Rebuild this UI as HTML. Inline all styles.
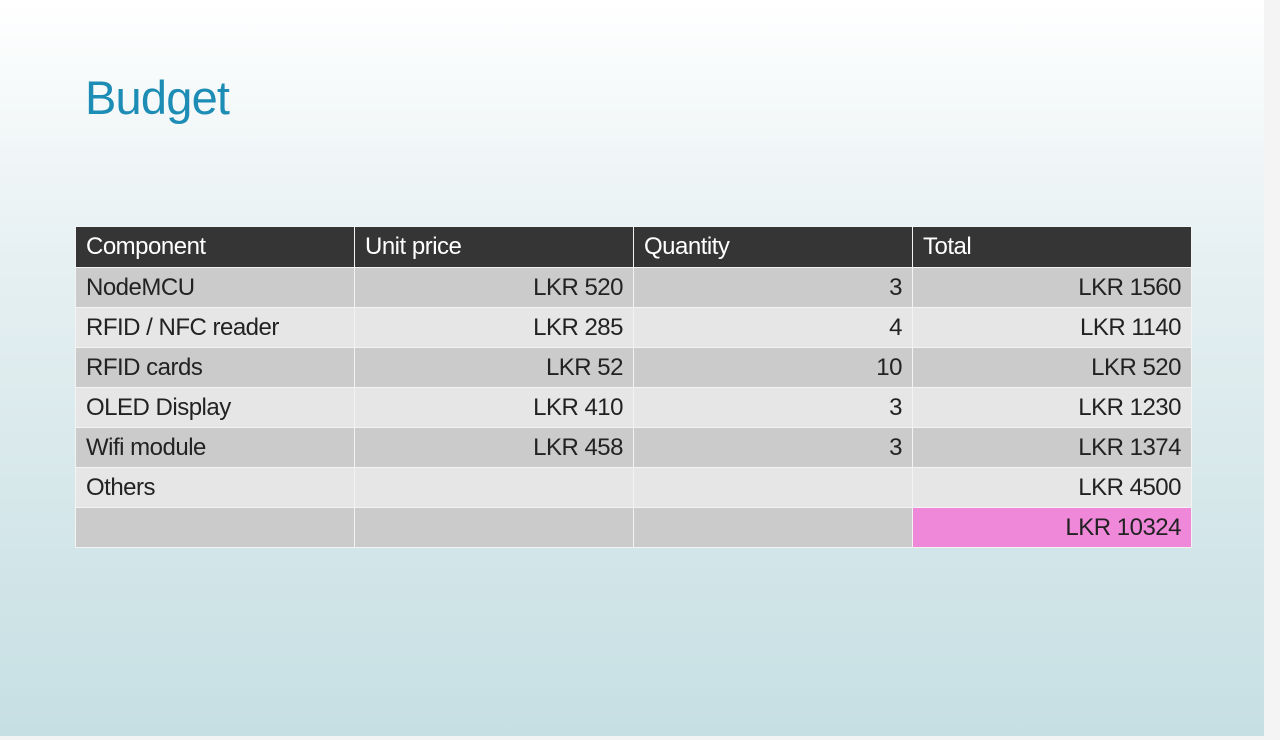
<!DOCTYPE html>
<html><head><meta charset="utf-8"><style>
body{margin:0;width:1280px;height:740px;background:#f4f4f4;position:relative;overflow:hidden;font-family:"Liberation Sans",sans-serif}
#slide{position:absolute;left:0;top:0;width:1264px;height:736px;background:linear-gradient(#ffffff 0%,#e6f0f2 35%,#c6dfe3 100%)}
h1{position:absolute;left:85px;top:70px;margin:0;font-weight:normal;font-size:47px;color:#1d8db6;letter-spacing:-0.8px}
table{position:absolute;left:75px;top:226px;border-collapse:collapse}
td,th{width:279px;height:40px;padding:0 10px;box-sizing:border-box;border:1px solid #f2f4f4;font-size:24px;color:#222;font-weight:normal;text-align:right;letter-spacing:-0.5px}
th{background:#353535;color:#fff;text-align:left;height:41px}
td:first-child{text-align:left}
tr.d td{background:#cbcbcb}
tr.l td{background:#e6e6e6}
td.pink{background:#f088da!important}
</style></head><body>
<div id="slide">
<h1>Budget</h1>
<table>
<tr><th>Component</th><th>Unit price</th><th>Quantity</th><th>Total</th></tr>
<tr class="d"><td>NodeMCU</td><td>LKR 520</td><td>3</td><td>LKR 1560</td></tr>
<tr class="l"><td>RFID / NFC reader</td><td>LKR 285</td><td>4</td><td>LKR 1140</td></tr>
<tr class="d"><td>RFID cards</td><td>LKR 52</td><td>10</td><td>LKR 520</td></tr>
<tr class="l"><td>OLED Display</td><td>LKR 410</td><td>3</td><td>LKR 1230</td></tr>
<tr class="d"><td>Wifi module</td><td>LKR 458</td><td>3</td><td>LKR 1374</td></tr>
<tr class="l"><td>Others</td><td></td><td></td><td>LKR 4500</td></tr>
<tr class="d"><td></td><td></td><td></td><td class="pink">LKR 10324</td></tr>
</table>
</div>
</body></html>
